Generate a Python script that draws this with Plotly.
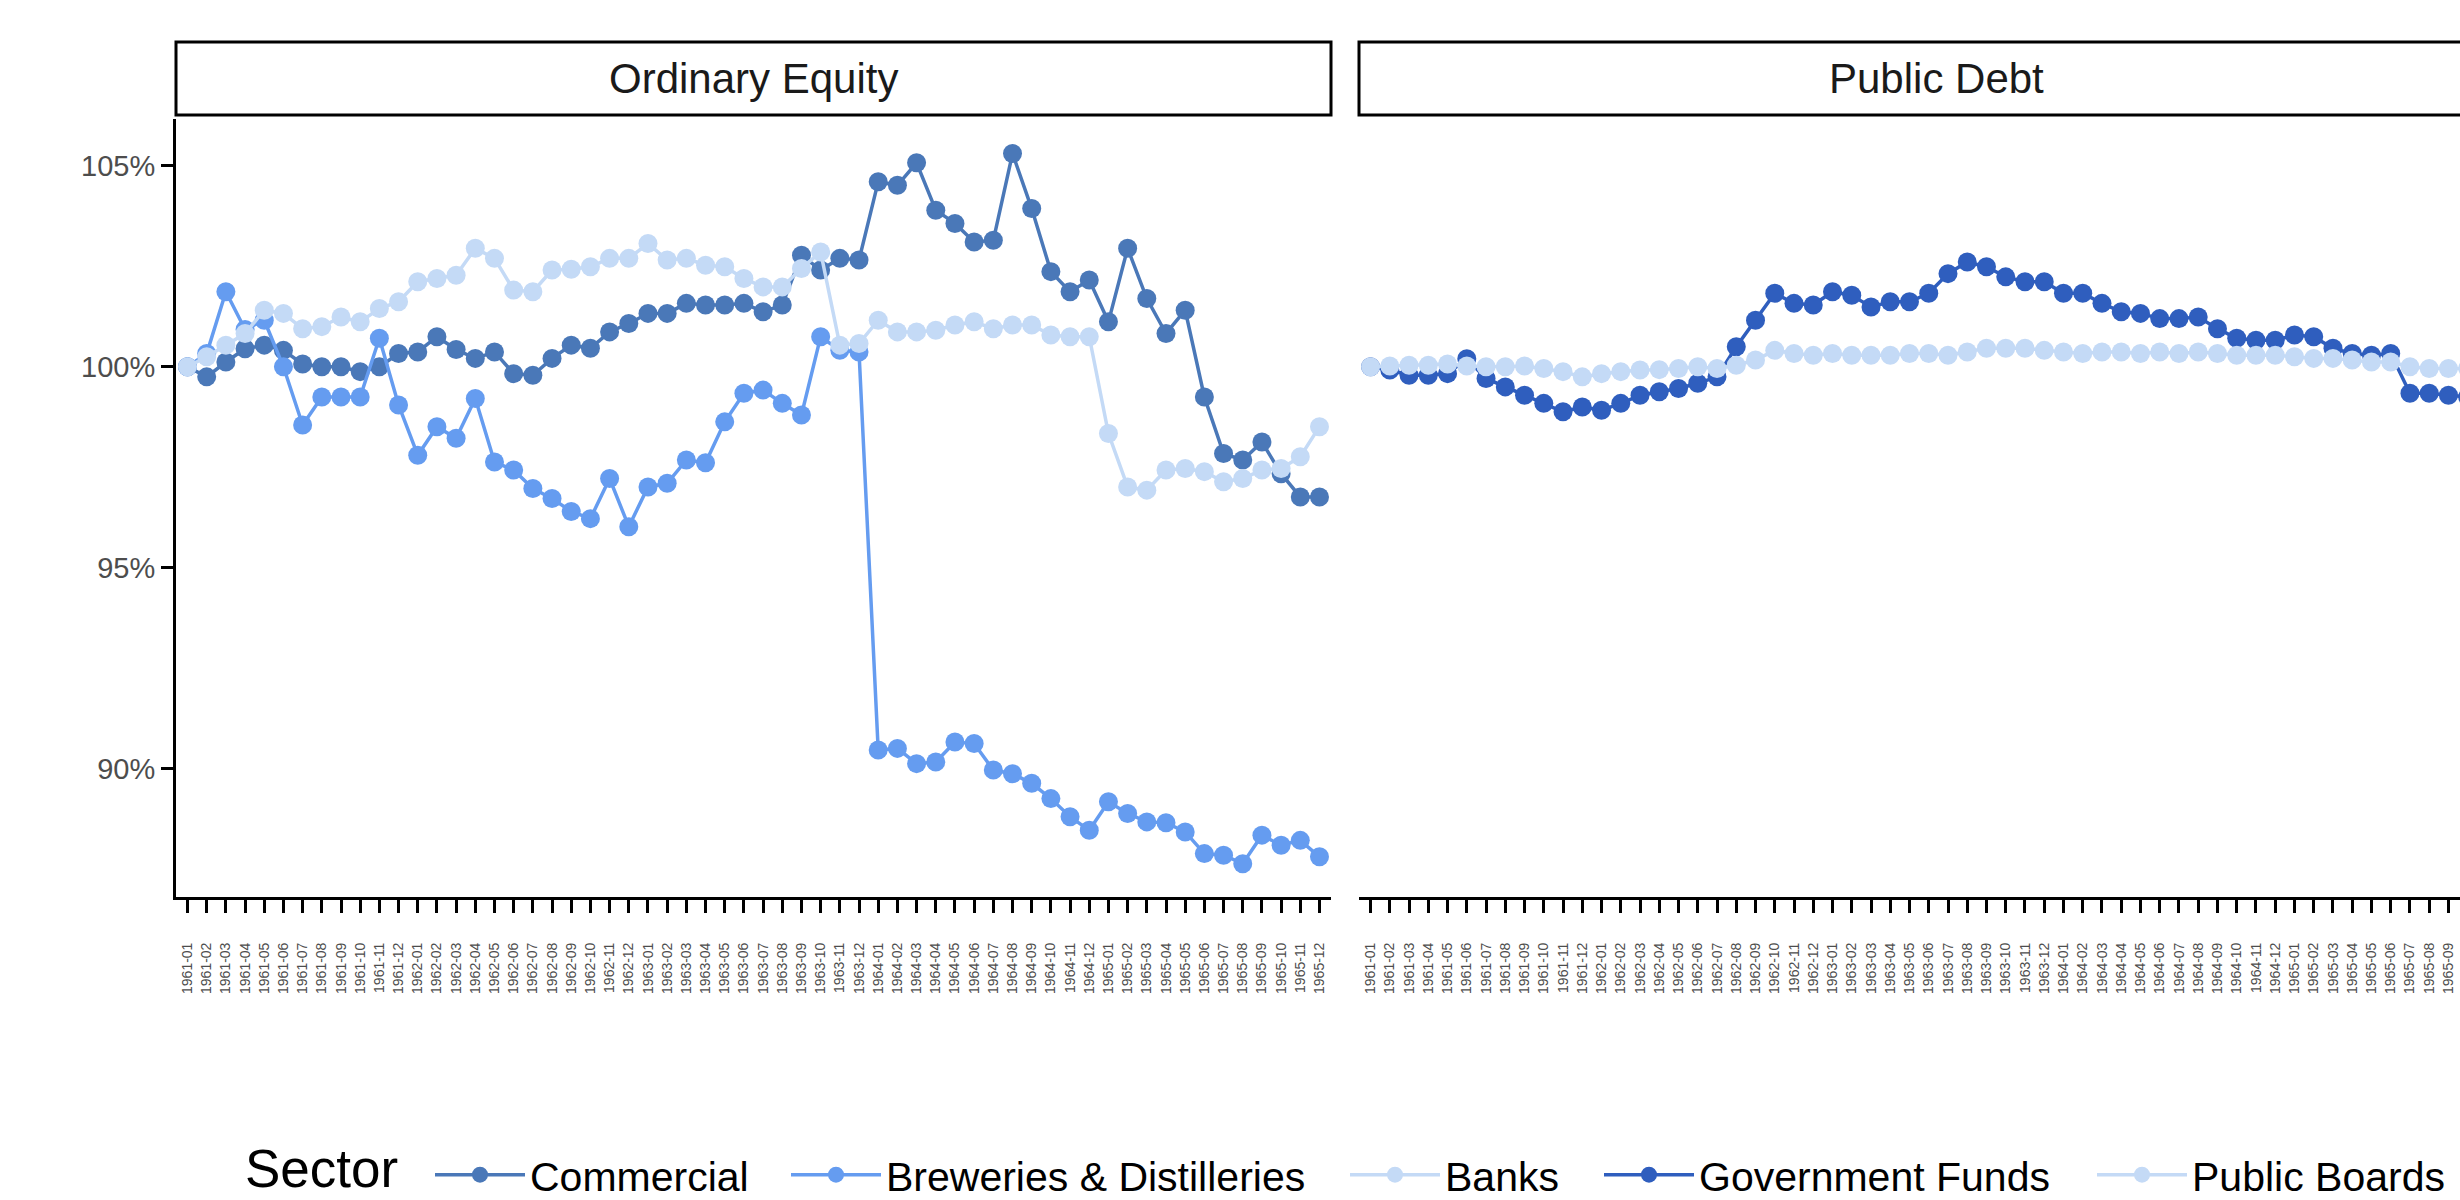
import plotly.graph_objects as go

# ---------------- data ----------------
months = [f"{y}-{m:02d}" for y in range(1961, 1966) for m in range(1, 13)]

commercial = [100.0, 99.75, 100.12, 100.45, 100.54, 100.41, 100.07, 100.0, 100.0, 99.88,
              100.0, 100.33, 100.37, 100.75, 100.43, 100.21, 100.37, 99.83, 99.79, 100.21,
              100.54, 100.46, 100.87, 101.08, 101.33, 101.33, 101.58, 101.54, 101.54, 101.58,
              101.37, 101.54, 102.78, 102.41, 102.70, 102.66, 104.61, 104.52, 105.08, 103.90,
              103.57, 103.11, 103.15, 105.31, 103.94, 102.37, 101.87, 102.16, 101.12, 102.95,
              101.70, 100.83, 101.41, 99.25, 97.84, 97.68, 98.13, 97.34, 96.76, 96.76]

breweries = [100.0, 100.33, 101.87, 100.93, 101.16, 100.0, 98.55, 99.25, 99.25, 99.25,
             100.71, 99.05, 97.80, 98.51, 98.22, 99.21, 97.63, 97.43, 96.97, 96.72,
             96.40, 96.22, 97.22, 96.02, 97.01, 97.10, 97.68, 97.61, 98.63, 99.34,
             99.42, 99.09, 98.80, 100.75, 100.41, 100.37, 90.46, 90.50, 90.12, 90.16,
             90.66, 90.62, 89.96, 89.87, 89.63, 89.25, 88.80, 88.46, 89.17, 88.88,
             88.67, 88.65, 88.42, 87.88, 87.84, 87.63, 88.34, 88.09, 88.21, 87.80]

banks = [100.0, 100.25, 100.54, 100.83, 101.41, 101.33, 100.95, 101.0, 101.24, 101.12,
         101.45, 101.62, 102.12, 102.20, 102.28, 102.95, 102.70, 101.91, 101.87, 102.41,
         102.43, 102.49, 102.70, 102.70, 103.07, 102.66, 102.70, 102.53, 102.49, 102.20,
         101.99, 101.99, 102.45, 102.86, 100.54, 100.58, 101.16, 100.87, 100.87, 100.91,
         101.04, 101.12, 100.95, 101.04, 101.04, 100.79, 100.75, 100.75, 98.34, 97.01,
         96.93, 97.43, 97.47, 97.39, 97.14, 97.22, 97.43, 97.47, 97.76, 98.51]

# Public Debt panel (visible part of the reference, cut at the right edge)
gov_funds = [100.0, 99.92, 99.79, 99.79, 99.83, 100.20, 99.71, 99.50, 99.29, 99.09,
             98.88, 99.00, 98.92, 99.09, 99.29, 99.38, 99.46, 99.59, 99.75, 100.50,
             101.16, 101.83, 101.58, 101.54, 101.87, 101.78, 101.49, 101.62, 101.62, 101.83,
             102.32, 102.61, 102.49, 102.24, 102.12, 102.12, 101.83, 101.83, 101.58, 101.37,
             101.33, 101.20, 101.20, 101.24, 100.95, 100.71, 100.66, 100.66, 100.79, 100.75,
             100.46, 100.33, 100.29, 100.33, 99.34, 99.34, 99.29, 99.25]

public_boards = [100.0, 100.02, 100.04, 100.04, 100.07, 100.02, 100.0, 100.0, 100.02, 99.96,
                 99.88, 99.75, 99.83, 99.88, 99.92, 99.93, 99.96, 100.0, 99.96, 100.04,
                 100.17, 100.41, 100.33, 100.29, 100.33, 100.29, 100.29, 100.29, 100.33, 100.33,
                 100.29, 100.37, 100.46, 100.46, 100.46, 100.41, 100.37, 100.33, 100.37, 100.37,
                 100.33, 100.37, 100.33, 100.37, 100.33, 100.29, 100.29, 100.29, 100.25, 100.21,
                 100.21, 100.17, 100.12, 100.12, 100.0, 99.96, 99.96, 99.96]

y_ticks = [90, 95, 100, 105]
y_tick_labels = ["90%", "95%", "100%", "105%"]
panels = ["Ordinary Equity", "Public Debt"]
legend_title = "Sector"

colors = {
    "Commercial": "#4a78b8",
    "Breweries & Distilleries": "#659cf0",
    "Banks": "#c4daf6",
    "Government Funds": "#2f5ebe",
    "Public Boards": "#c4daf6",
}

series = [
    ("Commercial", commercial, "x", "y"),
    ("Breweries & Distilleries", breweries, "x", "y"),
    ("Banks", banks, "x", "y"),
    ("Government Funds", gov_funds, "x2", "y2"),
    ("Public Boards", public_boards, "x2", "y2"),
]

FONT = "Liberation Sans, Arial, Helvetica, sans-serif"
W, H = 2460, 1200

def px(x):
    return x / W

def py(y):
    return 1 - y / H

# legend entry text start positions (px) measured on the reference
legend_text_x = [530, 886, 1445, 1699, 2192]
ITEMW = 90
legend_ids = ["legend", "legend2", "legend3", "legend4", "legend5"]

fig = go.Figure()
for (name, vals, xa, ya), lid in zip(series, legend_ids):
    fig.add_trace(go.Scatter(
        x=months[:len(vals)], y=vals, name=name, mode="lines+markers",
        xaxis=xa, yaxis=ya, legend=lid,
        line=dict(color=colors[name], width=3.5),
        marker=dict(color=colors[name], size=19),
    ))

# panel geometry (pixels of the 2460x1200 canvas)
left_px = (176, 1331)
right_px = (1359, 2460)
top_px, bot_px = 119, 897
strip_top, strip_bot = 42, 115

xcommon = dict(
    type="category", categoryorder="array", categoryarray=months,
    tickmode="array", tickvals=months, ticktext=months,
    tickangle=-90, tickfont=dict(size=14, color="#4d4d4d", family=FONT),
    ticks="outside", ticklen=13, tickwidth=3, tickcolor="black",
    ticklabelstandoff=24,
    showline=True, linecolor="black", linewidth=3,
    showgrid=False, zeroline=False, fixedrange=True,
)

layout_legends = {}
for lid, tx in zip(legend_ids, legend_text_x):
    layout_legends[lid] = dict(
        orientation="h", x=px(tx - ITEMW - 10), xanchor="left",
        y=py(1175), yanchor="middle",
        font=dict(size=41, color="black", family=FONT),
        itemwidth=ITEMW, bgcolor="rgba(0,0,0,0)", borderwidth=0,
    )

fig.update_layout(
    width=W, height=H, autosize=False,
    margin=dict(l=0, r=0, t=0, b=0, autoexpand=False),
    paper_bgcolor="white", plot_bgcolor="white",
    font=dict(family=FONT, color="black"),
    xaxis=dict(domain=[px(left_px[0]), px(left_px[1])], range=[-0.6, 59.6], anchor="y", **xcommon),
    xaxis2=dict(domain=[px(right_px[0]), px(right_px[1])], range=[-0.6, 56.6], anchor="y2", **xcommon),
    yaxis=dict(domain=[py(bot_px), py(top_px)], range=[86.80, 106.17], anchor="x",
               tickmode="array", tickvals=y_ticks, ticktext=y_tick_labels,
               tickfont=dict(size=29, color="#4d4d4d", family=FONT),
               ticks="outside", ticklen=12, tickwidth=3, tickcolor="black",
               showline=True, linecolor="black", linewidth=3,
               showgrid=False, zeroline=False),
    yaxis2=dict(domain=[py(bot_px), py(top_px)], matches="y", anchor="x2",
                showticklabels=False, ticks="", showline=False,
                showgrid=False, zeroline=False),
    showlegend=True,
    **layout_legends,
)

# legend title
fig.add_annotation(x=px(243), y=0.0, xref="paper", yref="paper",
                   text=legend_title, showarrow=False, xanchor="left", yanchor="bottom",
                   font=dict(size=53, color="black", family=FONT))

# facet strips
strip_boxes = [(left_px[0], left_px[1]), (right_px[0], 2520)]
for (x0, x1), label, (cx0, cx1) in zip(strip_boxes, panels, [left_px, (1359, 2513)]):
    fig.add_shape(type="rect", xref="paper", yref="paper",
                  x0=px(x0), x1=px(x1), y0=py(strip_bot), y1=py(strip_top),
                  line=dict(color="black", width=3), fillcolor="white", layer="above")
    fig.add_annotation(x=px((cx0 + cx1) / 2), y=py((strip_top + strip_bot) / 2),
                       xref="paper", yref="paper", text=label, showarrow=False,
                       font=dict(size=42, color="#1a1a1a", family=FONT),
                       xanchor="center", yanchor="middle")

fig.write_html("out.html")
